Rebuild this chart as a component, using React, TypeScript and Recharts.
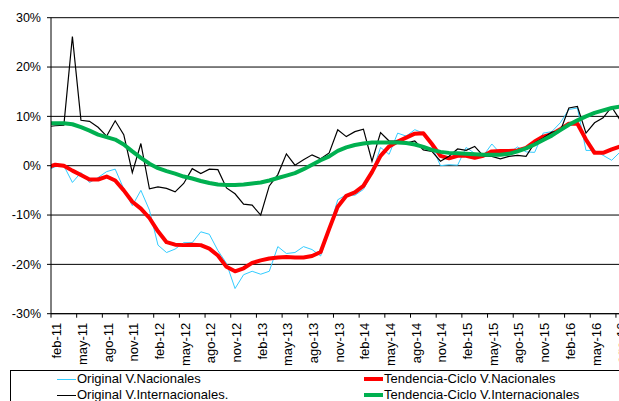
import { LineChart, Line, XAxis, YAxis, CartesianGrid } from "recharts";

// months start at ene-11 (index -1) so the lines run into the axis like the original
const firstIndex = -1;

const tickLabels = [
  "feb-11", "may-11", "ago-11", "nov-11",
  "feb-12", "may-12", "ago-12", "nov-12",
  "feb-13", "may-13", "ago-13", "nov-13",
  "feb-14", "may-14", "ago-14", "nov-14",
  "feb-15", "may-15", "ago-15", "nov-15",
  "feb-16", "may-16", "ago-16",
];

const originalNacionales = [
  -1.0, -0.2, 0.0, -3.4, -1.4, -3.4, -2.4, -1.2, -0.7, -4.7, -8.1, -5.0, -9.0,
  -16.1, -17.6, -16.9, -15.6, -15.6, -13.4, -13.9, -17.2, -19.8, -24.9, -22.1, -21.4,
  -22.0, -21.4, -16.4, -17.8, -17.6, -16.4, -17.0, -18.3, -12.8, -6.9, -5.9, -6.0,
  -4.8, -1.5, 3.7, 2.3, 6.6, 6.0, 7.3, 6.6, 3.9, 0.0, 0.2, 0.1,
  3.7, 2.5, 2.0, 4.4, 2.5, 2.6, 3.8, 2.8, 2.7, 6.6, 6.9, 8.7,
  11.4, 11.7, 3.1, 3.1, 2.1, 1.1, 2.8,
];

const originalInternacionales = [
  7.9, 8.1, 8.2, 26.2, 9.2, 9.0, 7.8, 6.0, 9.1, 6.3, -1.4, 4.5, -4.7,
  -4.3, -4.6, -5.3, -3.6, -0.6, -1.6, -0.7, -0.8, -4.5, -5.7, -7.8, -8.0,
  -10.0, -4.1, -1.8, 2.4, 0.1, 1.2, 2.2, 1.4, 2.6, 7.3, 5.9, 6.9,
  7.4, 0.9, 6.7, 5.0, 5.0, 4.6, 5.0, 3.2, 2.9, 0.9, 1.9, 3.4,
  3.1, 3.9, 2.0, 1.9, 1.4, 1.9, 2.1, 1.9, 4.6, 5.6, 6.8, 7.0,
  11.7, 12.0, 6.6, 8.7, 9.7, 11.9, 9.2,
];

const tendenciaNacionales = [
  -0.4, 0.2, 0.0, -1.0, -1.9, -2.8, -2.8, -2.2, -3.0, -5.0, -7.3, -8.7, -10.6,
  -13.3, -15.5, -16.0, -16.1, -16.0, -16.1, -16.8, -18.2, -20.5, -21.4, -20.8, -19.7,
  -19.2, -18.8, -18.6, -18.5, -18.6, -18.6, -18.3, -17.5, -12.8, -8.3, -6.1, -5.4,
  -4.1, -1.3, 2.0, 3.9, 4.9, 5.7, 6.5, 6.6, 4.4, 2.0, 1.5, 2.0,
  2.0, 1.6, 2.0, 2.9, 3.0, 3.0, 3.1, 3.6, 4.9, 5.9, 6.4, 7.4,
  8.5, 8.5, 5.3, 2.6, 2.6, 3.3, 3.9,
];

const tendenciaInternacionales = [
  8.6, 8.6, 8.6, 8.4, 7.8, 7.1, 6.3, 5.8, 5.3, 4.3, 2.9, 1.6, 0.4,
  -0.5, -1.1, -1.6, -2.2, -2.6, -3.1, -3.5, -3.8, -3.9, -3.9, -3.8, -3.6,
  -3.4, -3.0, -2.5, -2.0, -1.5, -0.7, 0.2, 1.1, 1.9, 3.0, 3.7, 4.2,
  4.5, 4.7, 4.7, 4.7, 4.7, 4.6, 4.3, 3.8, 3.2, 2.8, 2.6, 2.5,
  2.4, 2.3, 2.2, 2.2, 2.2, 2.4, 2.9, 3.5, 4.3, 5.2, 6.1, 7.2,
  8.3, 9.2, 10.0, 10.7, 11.2, 11.7, 12.0,
];

const yTicks = [-30, -20, -10, 0, 10, 20, 30];

const data = originalNacionales.map((v, k) => ({
  i: firstIndex + k,
  nac: v,
  intl: originalInternacionales[k],
  tnac: tendenciaNacionales[k],
  tintl: tendenciaInternacionales[k],
}));

const CHART_W = 640;
const CHART_H = 401;
const Y_AXIS_W = 51;
const RIGHT = 15.5;
const CATS = 67;
const HALF_CAT = (CHART_W - Y_AXIS_W - RIGHT) / CATS / 2;

const boundaryTicks = tickLabels.map((_, k) => k * 3 - 0.5);

const FONT = "'Liberation Sans', Arial, sans-serif";

function MonthTick(props: any) {
  const { x, y, payload } = props;
  const k = Math.round((payload.value + 0.5) / 3);
  const tx = x + HALF_CAT + 6;
  const ty = y + 3;
  return (
    <text
      x={tx}
      y={ty}
      transform={`rotate(-90, ${tx}, ${ty})`}
      textAnchor="end"
      fontSize={13}
      fontFamily={FONT}
      fill="#000"
    >
      {tickLabels[k]}
    </text>
  );
}

function LegendItem({ left, top, color, width, label }: { left: number; top: number; color: string; width: number; label: string }) {
  return (
    <>
      <div style={{ position: "absolute", left, top: top - width / 2, width: 19, height: width, background: color }} />
      <div style={{ position: "absolute", left: left + 20, top: top - 8.5, fontSize: 13, lineHeight: "15px", whiteSpace: "nowrap", color: "#000" }}>
        {label}
      </div>
    </>
  );
}

export default function App() {
  return (
    <div
      style={{
        position: "fixed",
        left: 0,
        top: 0,
        width: 619,
        height: 401,
        overflow: "hidden",
        background: "#fff",
        fontFamily: FONT,
      }}
    >
      <LineChart
        width={CHART_W}
        height={CHART_H}
        data={data}
        margin={{ top: 17.7, right: RIGHT, left: 0, bottom: 0 }}
      >
        <CartesianGrid vertical={false} stroke="#000" strokeWidth={1} />
        <XAxis
          type="number"
          dataKey="i"
          domain={[-0.5, 66.5]}
          allowDataOverflow
          ticks={boundaryTicks}
          interval={0}
          height={87.3}
          tickSize={4}
          axisLine={{ stroke: "#000" }}
          tickLine={{ stroke: "#000" }}
          tick={(p: any) => <MonthTick {...p} />}
        />
        <YAxis
          type="number"
          domain={[-30, 30]}
          ticks={yTicks}
          interval={0}
          width={Y_AXIS_W}
          tickSize={4}
          tickMargin={6}
          axisLine={{ stroke: "#000" }}
          tickLine={{ stroke: "#000" }}
          tickFormatter={(v: number) => `${v}%`}
          tick={{ fill: "#000", fontSize: 12.5, fontFamily: FONT }}
        />
        <Line
          type="linear"
          dataKey="nac"
          stroke="#33CCFF"
          strokeWidth={1}
          dot={false}
          activeDot={false}
          isAnimationActive={false}
        />
        <Line
          type="linear"
          dataKey="tnac"
          stroke="#FF0000"
          strokeWidth={4}
          strokeLinejoin="round"
          dot={false}
          activeDot={false}
          isAnimationActive={false}
        />
        <Line
          type="linear"
          dataKey="intl"
          stroke="#000000"
          strokeWidth={1.2}
          dot={false}
          activeDot={false}
          isAnimationActive={false}
        />
        <Line
          type="linear"
          dataKey="tintl"
          stroke="#00B050"
          strokeWidth={4}
          strokeLinejoin="round"
          dot={false}
          activeDot={false}
          isAnimationActive={false}
        />
      </LineChart>
      <div
        style={{
          position: "absolute",
          left: 10,
          top: 370,
          width: 700,
          height: 60,
          borderTop: "1px solid #000",
          borderLeft: "1px solid #000",
        }}
      />
      <LegendItem left={57} top={379.5} color="#33CCFF" width={1} label="Original V.Nacionales" />
      <LegendItem left={57} top={395.5} color="#000" width={1.5} label="Original V.Internacionales." />
      <LegendItem left={364} top={379} color="#FF0000" width={4} label="Tendencia-Ciclo V.Nacionales" />
      <LegendItem left={364} top={395} color="#00B050" width={4} label="Tendencia-Ciclo V.Internacionales" />
    </div>
  );
}
